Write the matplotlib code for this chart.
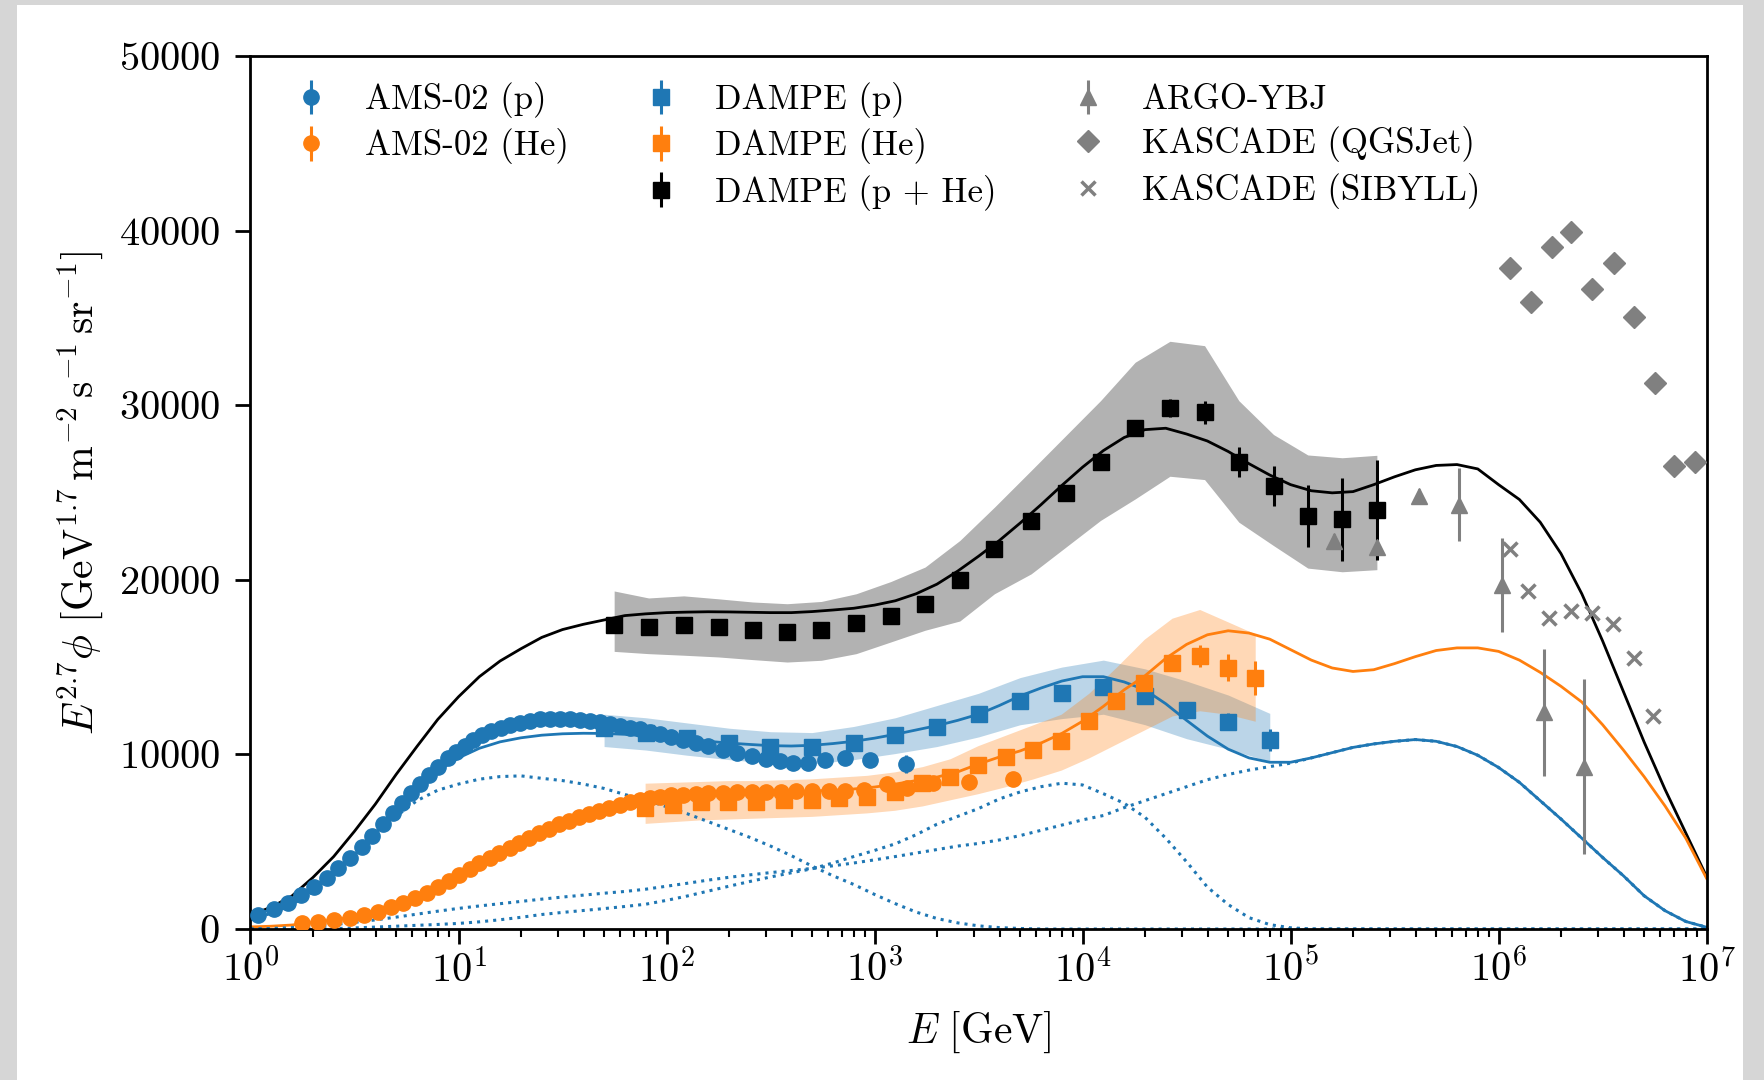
#!/usr/bin/env python3
"""Cosmic ray proton / helium spectra, E^2.7 weighted, with model curves."""

import numpy as np
import matplotlib
matplotlib.use('Agg')
from matplotlib import pyplot as plt
from matplotlib.lines import Line2D
from matplotlib.patches import Rectangle

plt.rcParams['font.family'] = 'serif'
plt.rcParams['font.serif'] = ['cmr10']
plt.rcParams['mathtext.fontset'] = 'cm'
plt.rcParams['axes.formatter.use_mathtext'] = True

# ---- model curves, sampled every 0.1 decade from 1 GeV to 10 PeV
E_model = np.logspace(0, 7, 71)
model_total = [800, 1250, 1900, 2950, 4150, 5600, 7150, 8850, 10450, 12000,
               13300, 14450, 15350, 16050, 16700, 17150, 17450, 17700, 17950, 18050,
               18120, 18150, 18170, 18160, 18140, 18120, 18120, 18180, 18270, 18370,
               18550, 18800, 19200, 19750, 20500, 21350, 22250, 23250, 24300, 25400,
               26450, 27400, 28150, 28600, 28680, 28350, 27950, 27350, 26650, 26000,
               25450, 25100, 24980, 25050, 25450, 25900, 26300, 26550, 26600, 26350,
               25450, 24600, 23300, 21500, 19200, 16500, 13600, 10700, 8000, 5500, 3000]
model_p = [750, 1100, 1650, 2400, 3250, 4250, 5500, 6700, 8000, 9050,
           9800, 10350, 10720, 10950, 11100, 11180, 11210, 11200, 11150, 11050,
           10950, 10850, 10750, 10650, 10570, 10500, 10480, 10520, 10620, 10750,
           10930, 11150, 11400, 11650, 11950, 12300, 12800, 13350, 13800, 14200,
           14450, 14450, 14150, 13700, 12900, 11950, 11050, 10300, 9800, 9550,
           9550, 9800, 10100, 10400, 10600, 10750, 10850, 10750, 10450, 9950,
           9250, 8400, 7350, 6300, 5200, 4100, 3050, 1900, 1050, 430, 100]
model_he = [120, 160, 230, 380, 520, 700, 950, 1300, 1800, 2400,
            3050, 3750, 4350, 4950, 5500, 6050, 6450, 6850, 7150, 7400,
            7550, 7650, 7720, 7770, 7800, 7830, 7860, 7900, 7950, 8020,
            8130, 8300, 8500, 8700, 9000, 9450, 9850, 10200, 10650, 11200,
            11900, 12750, 13700, 14500, 15500, 16300, 16850, 17080, 16950, 16600,
            16000, 15400, 14950, 14750, 14850, 15200, 15600, 15950, 16100, 16100,
            15900, 15400, 14700, 13900, 13000, 11700, 10250, 8720, 7050, 5200, 2900]
# proton model split in three source components (dotted)
comp_a = [550, 900, 1400, 2150, 3100, 4150, 5250, 6450, 7350, 7950,
          8300, 8580, 8730, 8770, 8630, 8500, 8300, 8050, 7700, 7400,
          7000, 6600, 6150, 5700, 5250, 4750, 4200, 3600, 3050, 2550,
          1980, 1450, 970, 600, 350, 180, 80, 30, 0, 0,
          0, 0, 0, 0, 0, 0, 0, 0, 0, 0,
          0, 0, 0, 0, 0, 0, 0, 0, 0, 0,
          0, 0, 0, 0, 0, 0, 0, 0, 0, 0, 0]
comp_b = [0, 0, 0, 0, 20, 60, 110, 160, 210, 260,
          320, 410, 530, 670, 830, 950, 1060, 1170, 1290, 1420,
          1640, 1890, 2170, 2450, 2720, 2980, 3220, 3450, 3780, 4150,
          4500, 4880, 5400, 6000, 6450, 6900, 7450, 7850, 8150, 8350,
          8250, 7750, 7200, 6400, 5200, 3850, 2400, 1400, 650, 250,
          70, 0, 0, 0, 0, 0, 0, 0, 0, 0,
          0, 0, 0, 0, 0, 0, 0, 0, 0, 0, 0]
comp_c = [0, 30, 80, 150, 250, 380, 520, 680, 850, 1020,
          1180, 1320, 1450, 1580, 1710, 1830, 1940, 2050, 2150, 2280,
          2450, 2620, 2800, 2960, 3100, 3230, 3350, 3470, 3620, 3780,
          3960, 4150, 4350, 4550, 4750, 4900, 5100, 5350, 5650, 5950,
          6250, 6500, 6950, 7350, 7750, 8150, 8550, 8850, 9100, 9300,
          9500, 9800, 10100, 10400, 10600, 10750, 10850, 10750, 10450, 9950,
          9250, 8400, 7350, 6300, 5200, 4100, 3050, 1900, 1050, 430, 100]

# ---- AMS-02 proton
ams_p_E = [1.09, 1.29, 1.51, 1.75, 2.02, 2.32, 2.64, 3.01, 3.42, 3.85,
           4.32, 4.83, 5.33, 5.89, 6.53, 7.21, 8.0, 8.87, 9.72, 10.7,
           11.8, 13.0, 14.4, 16.0, 17.7, 19.8, 22.1, 24.7, 27.5, 30.8,
           34.4, 38.4, 42.9, 47.9, 53.5, 59.7, 66.7, 74.6, 83.2, 93.3,
           105, 120, 138, 158, 186, 219, 257, 302, 352, 407,
           481, 578, 721, 951, 1413]
ams_p_flux = [800, 1150, 1510, 1930, 2420, 2900, 3470, 4050, 4710, 5340,
              6010, 6620, 7190, 7770, 8300, 8820, 9300, 9770, 10150, 10480,
              10820, 11110, 11340, 11530, 11680, 11820, 11930, 12010, 12030, 12030,
              12010, 11970, 11910, 11840, 11740, 11630, 11530, 11440, 11300, 11150,
              11000, 10820, 10650, 10470, 10280, 10080, 9930, 9760, 9600, 9520,
              9490, 9680, 9770, 9680, 9450]
ams_p_err = [30, 30, 30, 30, 30, 30, 30, 30, 30, 30,
             30, 30, 30, 30, 30, 30, 30, 30, 30, 30,
             30, 30, 30, 30, 30, 30, 30, 30, 30, 30,
             40, 40, 40, 40, 40, 40, 50, 50, 50, 50,
             60, 60, 60, 70, 70, 80, 90, 100, 110, 120,
             140, 170, 210, 280, 500]

# ---- AMS-02 helium
ams_he_E = [1.76, 2.12, 2.53, 3.01, 3.52, 4.08, 4.74, 5.43, 6.18, 7.03,
            8.0, 9.03, 10.1, 11.3, 12.6, 14.1, 15.7, 17.6, 19.6, 21.9,
            24.5, 27.3, 30.5, 34.1, 38.1, 42.6, 47.5, 53.1, 59.7, 66.7,
            74.6, 83, 93, 105, 120, 138, 158, 186, 219, 257,
            302, 355, 417, 501, 603, 724, 891, 1145, 1430, 1910,
            2830, 4640]
ams_he_flux = [320, 420, 520, 650, 800, 990, 1280, 1510, 1790, 2080,
               2420, 2750, 3090, 3420, 3760, 4050, 4340, 4620, 4940, 5190,
               5500, 5750, 6000, 6200, 6400, 6600, 6780, 6950, 7100, 7250,
               7400, 7500, 7580, 7650, 7700, 7740, 7770, 7800, 7820, 7840,
               7860, 7870, 7880, 7890, 7900, 7920, 7950, 8320, 8100, 8380,
               8440, 8570]
ams_he_err = [20, 20, 20, 20, 20, 20, 20, 20, 20, 20,
              20, 20, 20, 20, 20, 20, 20, 20, 20, 20,
              20, 20, 30, 30, 30, 30, 30, 30, 30, 40,
              40, 40, 40, 50, 50, 50, 60, 60, 70, 70,
              80, 90, 100, 110, 120, 140, 160, 190, 220, 260,
              300, 400]

# ---- DAMPE proton
dampe_p_E = [50.1, 79.4, 126, 200, 316, 501, 794, 1259, 1995, 3162,
             5012, 7943, 12589, 19953, 31623, 50119, 79433]
dampe_p_flux = [11500, 11210, 10920, 10630, 10440, 10450, 10670, 11110, 11590, 12330,
                13060, 13530, 13840, 13340, 12540, 11870, 10820]
dampe_p_err = [50, 50, 50, 60, 70, 80, 90, 110, 130, 160,
               190, 230, 280, 330, 400, 480, 640]
dampe_p_hi = [12300, 12100, 11800, 11500, 11300, 11250, 11600, 12100, 12800, 13500,
              14400, 15000, 15400, 14900, 14200, 13400, 12350]
dampe_p_lo = [10450, 10250, 9950, 9700, 9500, 9450, 9700, 10050, 10450, 11000,
              11700, 12050, 12300, 11700, 10900, 10300, 9600]

# ---- DAMPE helium
dampe_he_E = [78.9, 107, 146, 198, 269, 366, 498, 676, 918, 1250,
              1698, 2307, 3141, 4266, 5794, 7889, 10715, 14555, 19815, 26915,
              36560, 49774, 67608]
dampe_he_flux = [6910, 7100, 7290, 7290, 7290, 7390, 7390, 7490, 7580, 7860,
                 8340, 8720, 9370, 9870, 10270, 10780, 11910, 13080, 14110, 15220,
                 15640, 14970, 14360]
dampe_he_err = [40, 40, 40, 40, 50, 50, 60, 60, 70, 80,
                90, 100, 110, 130, 150, 170, 200, 230, 270, 330,
                620, 790, 970]
dampe_he_hi = [8350, 8400, 8450, 8500, 8500, 8550, 8600, 8700, 8800, 9000,
               9300, 9750, 10500, 11100, 11700, 12300, 13500, 15000, 16600, 17800,
               18300, 17600, 16900]
dampe_he_lo = [6050, 6150, 6250, 6300, 6350, 6400, 6450, 6550, 6650, 6800,
               7050, 7400, 7750, 8150, 8600, 9100, 9800, 10600, 11400, 12200,
               12500, 12300, 11900]

# ---- DAMPE p + He
dampe_phe_E = [56, 82, 121, 178, 259, 380, 555, 816, 1197, 1750,
               2570, 3770, 5660, 8310, 12200, 17900, 26300, 38600, 56400, 82800,
               121000, 177000, 260000]
dampe_phe_flux = [17390, 17300, 17430, 17300, 17140, 17010, 17140, 17540, 17940, 18630,
                  19970, 21740, 23360, 25000, 26770, 28700, 29850, 29600, 26740, 25380,
                  23660, 23460, 24010]
dampe_phe_err = [80, 80, 80, 80, 90, 90, 100, 110, 120, 140,
                 160, 190, 230, 280, 340, 420, 520, 650, 850, 1140,
                 1770, 2360, 2870]
dampe_phe_hi = [19360, 18960, 19080, 18910, 18730, 18630, 18760, 19200, 19900, 20730,
                22250, 24160, 26260, 28260, 30260, 32460, 33660, 33410, 30260, 28320,
                27150, 26990, 27130]
dampe_phe_lo = [15900, 15770, 15680, 15580, 15430, 15290, 15390, 15770, 16440, 17110,
                17640, 19200, 20340, 21870, 23400, 24630, 25930, 25740, 23300, 21960,
                20670, 20460, 20580]

# ---- air shower experiments
argo_E = [1.61e5, 2.6e5, 4.15e5, 6.46e5, 1.04e6, 1.66e6, 2.58e6]
argo_flux = [22200, 21900, 24800, 24300, 19700, 12400, 9300]
argo_err = [400, 400, 400, 2100, 2700, 3650, 5000]

kascade_q_E = [1.13e6, 1.43e6, 1.81e6, 2.22e6, 2.81e6, 3.57e6, 4.5e6, 5.67e6, 6.98e6, 8.81e6]
kascade_q_flux = [37840, 35890, 39080, 39900, 36670, 38120, 35050, 31270, 26540, 26750]
kascade_s_E = [1.14e6, 1.39e6, 1.75e6, 2.22e6, 2.82e6, 3.56e6, 4.5e6, 5.5e6]
kascade_s_flux = [21750, 19360, 17790, 18230, 18120, 17450, 15540, 12220]

C_P = '#1f77b4'
C_HE = '#ff7f0e'


def plot():
    fig = plt.figure(figsize=(17.64, 10.8), dpi=100, facecolor='#d6d6d6')
    fig.patches.append(Rectangle((17/1764, 0), (1743-17)/1764, 1-5/1080,
                                 transform=fig.transFigure, facecolor='white',
                                 edgecolor='none', zorder=-10))
    ax = fig.add_axes([250.5/1764, 1-929/1080, (1706.6-250.5)/1764, (929-56)/1080])

    # systematic bands
    ax.fill_between(dampe_p_E, dampe_p_lo, dampe_p_hi, color=C_P, alpha=0.3, lw=0, zorder=1)
    ax.fill_between(dampe_he_E, dampe_he_lo, dampe_he_hi, color=C_HE, alpha=0.3, lw=0, zorder=1)
    ax.fill_between(dampe_phe_E, dampe_phe_lo, dampe_phe_hi, color='k', alpha=0.3, lw=0, zorder=1)

    # models
    ax.plot(E_model, model_total, color='k', lw=2.0, zorder=2)
    ax.plot(E_model, model_p, color=C_P, lw=2.0, zorder=2)
    ax.plot(E_model, model_he, color=C_HE, lw=2.0, zorder=2)
    for comp in (comp_a, comp_b, comp_c):
        ax.plot(E_model, comp, color=C_P, lw=2.2, ls=':', zorder=2)

    # data
    eb = dict(elinewidth=2.2, capsize=0, zorder=3, linestyle='none')
    h_ams_p = ax.errorbar(ams_p_E, ams_p_flux, yerr=ams_p_err, fmt='o', ms=11, color=C_P, **eb)
    h_ams_he = ax.errorbar(ams_he_E, ams_he_flux, yerr=ams_he_err, fmt='o', ms=11, color=C_HE, **eb)
    h_d_p = ax.errorbar(dampe_p_E, dampe_p_flux, yerr=dampe_p_err, fmt='s', ms=12, color=C_P, **eb)
    h_d_he = ax.errorbar(dampe_he_E, dampe_he_flux, yerr=dampe_he_err, fmt='s', ms=12, color=C_HE, **eb)
    h_d_phe = ax.errorbar(dampe_phe_E, dampe_phe_flux, yerr=dampe_phe_err, fmt='s', ms=12, color='k', **eb)
    h_argo = ax.errorbar(argo_E, argo_flux, yerr=argo_err, fmt='^', ms=11, color='gray', **eb)
    h_kq, = ax.plot(kascade_q_E, kascade_q_flux, 'D', ms=11, color='gray', ls='none', zorder=3)
    h_ks, = ax.plot(kascade_s_E, kascade_s_flux, 'x', ms=10, mew=2.5, color='gray', ls='none', zorder=3)

    blank = Line2D([], [], ls='none', marker='none')
    handles = [h_ams_p, h_ams_he, blank, h_d_p, h_d_he, h_d_phe, h_argo, h_kq, h_ks]
    labels = ['AMS-02 (p)', 'AMS-02 (He)', ' ', 'DAMPE (p)', 'DAMPE (He)',
              'DAMPE (p + He)', 'ARGO-YBJ', 'KASCADE (QGSJet)', 'KASCADE (SIBYLL)']
    ax.legend(handles, labels, loc='upper left', ncol=3, frameon=False, fontsize=25,
              handlelength=2.0, handletextpad=0.55, columnspacing=1.65, labelspacing=0.3,
              borderaxespad=0.35)

    ax.set_xscale('log')
    ax.set_xlim(1, 1e7)
    ax.set_ylim(0, 50000)
    ax.set_yticks([0, 10000, 20000, 30000, 40000, 50000])
    ax.tick_params(which='major', direction='out', length=11, width=2, labelsize=29)
    ax.tick_params(which='minor', direction='out', length=6, width=1.5)
    ax.tick_params(axis='y', which='major', pad=11)
    for sp in ax.spines.values():
        sp.set_linewidth(2)
    ax.set_xlabel(r'$E\ [\mathrm{GeV}]$', fontsize=30, labelpad=14)
    ax.set_ylabel(r'$E^{2.7}\phi\ [\mathrm{GeV}^{1.7}\,\mathrm{m}^{-2}\,\mathrm{s}^{-1}\,\mathrm{sr}^{-1}]$',
                  fontsize=30, labelpad=10)
    fig.savefig('out.png', dpi=100, facecolor=fig.get_facecolor())


if __name__ == '__main__':
    plot()
